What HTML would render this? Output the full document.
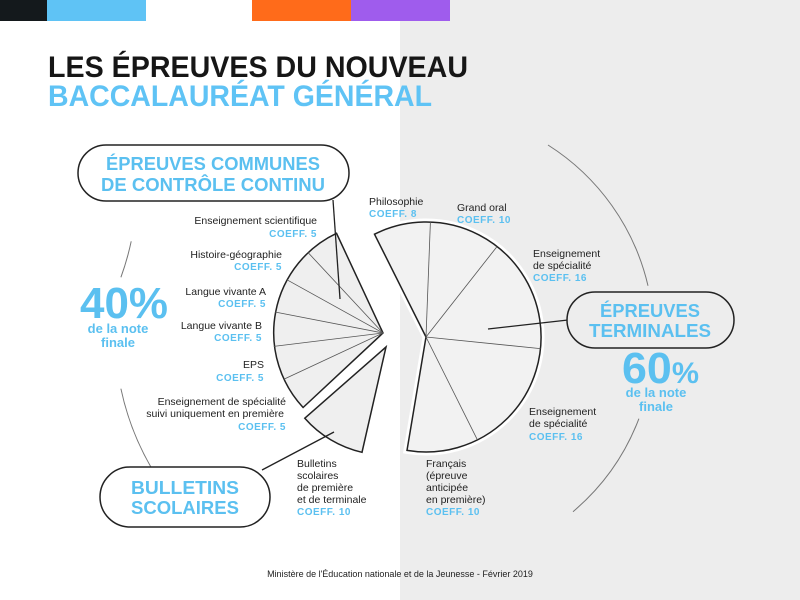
<!DOCTYPE html>
<html><head><meta charset="utf-8"><style>
body{margin:0;width:800px;height:600px;overflow:hidden;background:#fff}
svg{display:block;font-family:"Liberation Sans",sans-serif}
.l{font-size:10.5px;fill:#222}
.c{font-size:10px;fill:#5bc0f0;font-weight:bold;letter-spacing:0.5px}
.b{font-weight:bold;fill:#5bc0f0}
</style></head><body>
<svg width="800" height="600" viewBox="0 0 800 600">
<rect x="400" y="0" width="400" height="600" fill="#ededed"/>
<rect x="0" y="0" width="47" height="21" fill="#14191c"/>
<rect x="47" y="0" width="99" height="21" fill="#5fc3f5"/>
<rect x="252" y="0" width="99" height="21" fill="#ff6b1a"/>
<rect x="351" y="0" width="99" height="21" fill="#9f5ced"/>
<text x="48" y="77" font-size="30" font-weight="bold" fill="#161616" textLength="420" lengthAdjust="spacingAndGlyphs">LES ÉPREUVES DU NOUVEAU</text>
<text x="48" y="106" font-size="30" font-weight="bold" fill="#5fc3f5" textLength="384" lengthAdjust="spacingAndGlyphs">BACCALAURÉAT GÉNÉRAL</text>

<g fill="none" stroke="#777" stroke-width="1">
<path d="M 131.2 241.3 A 268 268 0 0 1 120.9 277.3"/>
<path d="M 120.9 388.7 A 268 268 0 0 0 150.9 467"/>
<path d="M 548 145 A 228 228 0 0 1 648 285.7"/>
<path d="M 638.9 418.7 A 228 228 0 0 1 573 511.7"/>
</g>

<path d="M383 333 L303.1 407.5 A 110 110 0 0 1 336.5 233.3 Z" fill="#efefef" stroke="#222" stroke-width="1.5"/>
<g stroke="#555" stroke-width="0.8">
<line x1="383" y1="333" x2="308" y2="252.5"/>
<line x1="383" y1="333" x2="286.8" y2="279.7"/>
<line x1="383" y1="333" x2="275" y2="312"/>
<line x1="383" y1="333" x2="273.8" y2="346.4"/>
<line x1="383" y1="333" x2="283.3" y2="379.5"/>
</g>
<path d="M386 347 L304.8 418.2 A 108 108 0 0 0 362 452.3 Z" fill="#efefef" stroke="#222" stroke-width="1.5"/>

<path d="M426 337 L374.5 234.2 A 115 115 0 1 1 407 450.4 Z" fill="#f2f2f2" stroke="#fff" stroke-width="7"/>
<path d="M426 337 L374.5 234.2 A 115 115 0 1 1 407 450.4 Z" fill="#f2f2f2" stroke="#222" stroke-width="1.5"/>
<g stroke="#555" stroke-width="0.8">
<line x1="426" y1="337" x2="430.4" y2="222.1"/>
<line x1="426" y1="337" x2="497" y2="246.6"/>
<line x1="426" y1="337" x2="540.4" y2="348.6"/>
<line x1="426" y1="337" x2="477.4" y2="439.8"/>
</g>

<g stroke="#222" stroke-width="1.3">
<line x1="333" y1="200" x2="340" y2="299"/>
<line x1="262" y1="470" x2="334" y2="432"/>
<line x1="488" y1="329" x2="568" y2="320"/>
</g>

<g fill="#fff" stroke="#222" stroke-width="1.5">
<rect x="78" y="145" width="271" height="56" rx="28"/>
<rect x="100" y="467" width="170" height="60" rx="30"/>
<rect x="567" y="292" width="167" height="56" rx="28" fill="#ededed"/>
</g>
<g class="b" font-size="18" text-anchor="middle">
<text x="213" y="170" textLength="214" lengthAdjust="spacingAndGlyphs">ÉPREUVES COMMUNES</text>
<text x="213" y="191" textLength="224" lengthAdjust="spacingAndGlyphs">DE CONTRÔLE CONTINU</text>
<text x="185" y="494" textLength="108" lengthAdjust="spacingAndGlyphs">BULLETINS</text>
<text x="185" y="514" textLength="108" lengthAdjust="spacingAndGlyphs">SCOLAIRES</text>
<text x="650" y="317" textLength="100" lengthAdjust="spacingAndGlyphs">ÉPREUVES</text>
<text x="650" y="337" textLength="122" lengthAdjust="spacingAndGlyphs">TERMINALES</text>
</g>
<g class="b">
<text x="80" y="318" font-size="44" textLength="88" lengthAdjust="spacingAndGlyphs">40%</text>
<text x="622" y="383" font-size="44" textLength="77" lengthAdjust="spacingAndGlyphs">60<tspan font-size="30">%</tspan></text>
</g>
<g class="b" text-anchor="middle" font-size="13">
<text x="118" y="333">de la note</text>
<text x="118" y="347">finale</text>
<text x="656" y="397">de la note</text>
<text x="656" y="411">finale</text>
</g>

<g text-anchor="end">
<text class="l" x="317" y="224">Enseignement scientifique</text><text class="c" x="317" y="237">COEFF. 5</text>
<text class="l" x="282" y="258">Histoire-géographie</text><text class="c" x="282" y="270">COEFF. 5</text>
<text class="l" x="266" y="295">Langue vivante A</text><text class="c" x="266" y="307">COEFF. 5</text>
<text class="l" x="262" y="329">Langue vivante B</text><text class="c" x="262" y="341">COEFF. 5</text>
<text class="l" x="264" y="368">EPS</text><text class="c" x="264" y="381">COEFF. 5</text>
<text class="l" x="286" y="405">Enseignement de spécialité</text>
<text class="l" x="284" y="417">suivi uniquement en première</text><text class="c" x="286" y="430">COEFF. 5</text>
</g>
<g>
<text class="l" x="297" y="467">Bulletins</text>
<text class="l" x="297" y="479">scolaires</text>
<text class="l" x="297" y="491">de première</text>
<text class="l" x="297" y="503">et de terminale</text>
<text class="c" x="297" y="515">COEFF. 10</text>
<text class="l" x="369" y="205">Philosophie</text><text class="c" x="369" y="217">COEFF. 8</text>
<text class="l" x="457" y="211">Grand oral</text><text class="c" x="457" y="223">COEFF. 10</text>
<text class="l" x="533" y="257">Enseignement</text><text class="l" x="533" y="269">de spécialité</text><text class="c" x="533" y="281">COEFF. 16</text>
<text class="l" x="529" y="415">Enseignement</text><text class="l" x="529" y="427">de spécialité</text><text class="c" x="529" y="440">COEFF. 16</text>
<text class="l" x="426" y="467">Français</text>
<text class="l" x="426" y="479">(épreuve</text>
<text class="l" x="426" y="491">anticipée</text>
<text class="l" x="426" y="503">en première)</text>
<text class="c" x="426" y="515">COEFF. 10</text>
</g>
<text x="400" y="577" font-size="9" fill="#222" text-anchor="middle">Ministère de l'Éducation nationale et de la Jeunesse - Février 2019</text>
</svg>
</body></html>
